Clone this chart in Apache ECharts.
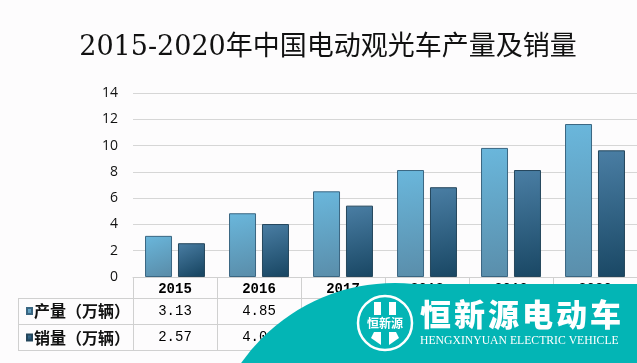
<!DOCTYPE html>
<html>
<head>
<meta charset="utf-8">
<script src="https://cdn.jsdelivr.net/npm/echarts@6/dist/echarts.min.js"></script>
<style>
html,body{margin:0;padding:0;background:#fdfcfd;}
#c{width:637px;height:363px;}
</style>
</head>
<body>
<div id="c"></div>
<script>
const titleText = '2015-2020年中国电动观光车产量及销量';
const years = ['2015', '2016', '2017', '2018', '2019', '2020'];
const production = [3.13, 4.85, 6.52, 8.14, 9.82, 11.64];
const sales = [2.57, 4.03, 5.43, 6.83, 8.14, 9.64];
const seriesNames = ['产量（万辆）', '销量（万辆）'];
const yMin = 0, yMax = 14, yStep = 2;
const brandName = '恒新源电动车';
const brandSub = 'HENGXINYUAN ELECTRIC VEHICLE';
const logoText = '恒新源';

const chart = echarts.init(document.getElementById('c'), null, {renderer: 'canvas'});

const lightGrad = new echarts.graphic.LinearGradient(0, 0, 0.6, 1, [
  {offset: 0, color: '#6ab7dc'},
  {offset: 1, color: '#5a8eab'}
]);
const darkGrad = new echarts.graphic.LinearGradient(0, 0, 0.6, 1, [
  {offset: 0, color: '#4a7ea4'},
  {offset: 1, color: '#1a4865'}
]);

const gridLeft = 133, gridTop = 93, gridBottom = 86;
const tableLine = '#d0d0d0';
const monoFont = "'Liberation Mono', 'DejaVu Sans Mono', monospace";

const brandChars = brandName.split('').map((ch, i) => ({
  type: 'text', z: 101,
  style: {text: ch, x: 420 + i * 34, y: 314, fill: '#fff', font: "900 31px 'Noto Sans CJK SC'", textVerticalAlign: 'middle', textAlign: 'left'}
}));

chart.setOption({
  backgroundColor: '#fdfcfd',
  animation: false,
  title: {
    text: titleText,
    left: 323, textAlign: 'center',
    top: 29,
    textStyle: {fontFamily: "'DejaVu Serif', 'Noto Sans CJK SC'", fontSize: 27, fontWeight: 'normal', color: '#111'}
  },
  legend: {
    data: seriesNames,
    orient: 'vertical',
    left: 21, top: 298,
    itemGap: 10.5,
    itemWidth: 5, itemHeight: 6,
    icon: 'rect',
    textStyle: {fontFamily: "'Noto Sans CJK SC'", fontSize: 16, fontWeight: 'bold', color: '#111', padding: [0, 0, 0, -3], lineHeight: 16}
  },
  grid: {left: gridLeft, right: 0, top: gridTop, bottom: gridBottom},
  xAxis: [
    {
      type: 'category', data: years, position: 'bottom',
      axisLine: {show: true, lineStyle: {color: tableLine, width: 1}},
      axisTick: {show: true, interval: 0, length: 73, lineStyle: {color: tableLine}},
      axisLabel: {margin: 5, color: '#000', fontFamily: monoFont, fontSize: 14, fontWeight: 'bold'}
    },
    {
      type: 'category', data: production.map(v => v.toFixed(2)), position: 'bottom', offset: 21,
      axisLine: {show: false}, axisTick: {show: false},
      axisLabel: {margin: 6, color: '#000', fontFamily: monoFont, fontSize: 14}
    },
    {
      type: 'category', data: sales.map(v => v.toFixed(2)), position: 'bottom', offset: 47,
      axisLine: {show: false}, axisTick: {show: false},
      axisLabel: {margin: 6, color: '#000', fontFamily: monoFont, fontSize: 14}
    }
  ],
  yAxis: {
    type: 'value', min: yMin, max: yMax, interval: yStep,
    axisLine: {show: false}, axisTick: {show: false},
    axisLabel: {margin: 15, color: '#111', fontFamily: "'Open Sans', sans-serif", fontSize: 14},
    splitLine: {lineStyle: {color: '#d6d6d6', width: 1.2}}
  },
  series: [
    {
      name: seriesNames[0], type: 'bar', data: production, xAxisIndex: 0,
      barWidth: 27, barGap: '22%',
      itemStyle: {color: lightGrad, borderColor: '#3a6682', borderWidth: 1}
    },
    {
      name: seriesNames[1], type: 'bar', data: sales, xAxisIndex: 0,
      barWidth: 27, barGap: '22%',
      itemStyle: {color: darkGrad, borderColor: '#24465c', borderWidth: 1}
    }
  ],
  graphic: [
    {type: 'line', z: 5, shape: {x1: 18, y1: 298.5, x2: 637, y2: 298.5}, style: {stroke: tableLine, lineWidth: 1}},
    {type: 'line', z: 5, shape: {x1: 18, y1: 324.5, x2: 637, y2: 324.5}, style: {stroke: tableLine, lineWidth: 1}},
    {type: 'line', z: 5, shape: {x1: 18, y1: 350.5, x2: 637, y2: 350.5}, style: {stroke: tableLine, lineWidth: 1}},
    {type: 'line', z: 5, shape: {x1: 18.5, y1: 298, x2: 18.5, y2: 351}, style: {stroke: tableLine, lineWidth: 1}},
    {type: 'circle', z: 100, shape: {cx: 395, cy: 471, r: 188}, style: {fill: '#03b5b5'}},
    {type: 'rect', z: 100, shape: {x: 395, y: 284, width: 242, height: 79}, style: {fill: '#03b5b5'}},
    {type: 'circle', z: 101, shape: {cx: 385, cy: 323, r: 27}, style: {fill: 'none', stroke: '#fff', lineWidth: 2.5}},
    {type: 'rect', z: 101, shape: {x: 374, y: 302, width: 7, height: 13}, style: {fill: '#fff'}},
    {type: 'rect', z: 101, shape: {x: 389, y: 302, width: 7, height: 13}, style: {fill: '#fff'}},
    {type: 'polygon', z: 101, shape: {points: [[374, 332], [381, 332], [381, 345], [371, 338]]}, style: {fill: '#fff'}},
    {type: 'polygon', z: 101, shape: {points: [[389, 332], [396, 332], [399, 338], [389, 345]]}, style: {fill: '#fff'}},
    {type: 'text', z: 101, style: {text: logoText, x: 385, y: 323, fill: '#fff', font: "bold 12px 'Noto Sans CJK SC'", textAlign: 'center', textVerticalAlign: 'middle'}},
    ...brandChars,
    {type: 'text', z: 101, style: {text: brandSub, x: 420, y: 341, fill: '#fff', font: "11.7px 'Liberation Serif'", textAlign: 'left', textVerticalAlign: 'middle'}}
  ]
});
</script>
</body>
</html>
